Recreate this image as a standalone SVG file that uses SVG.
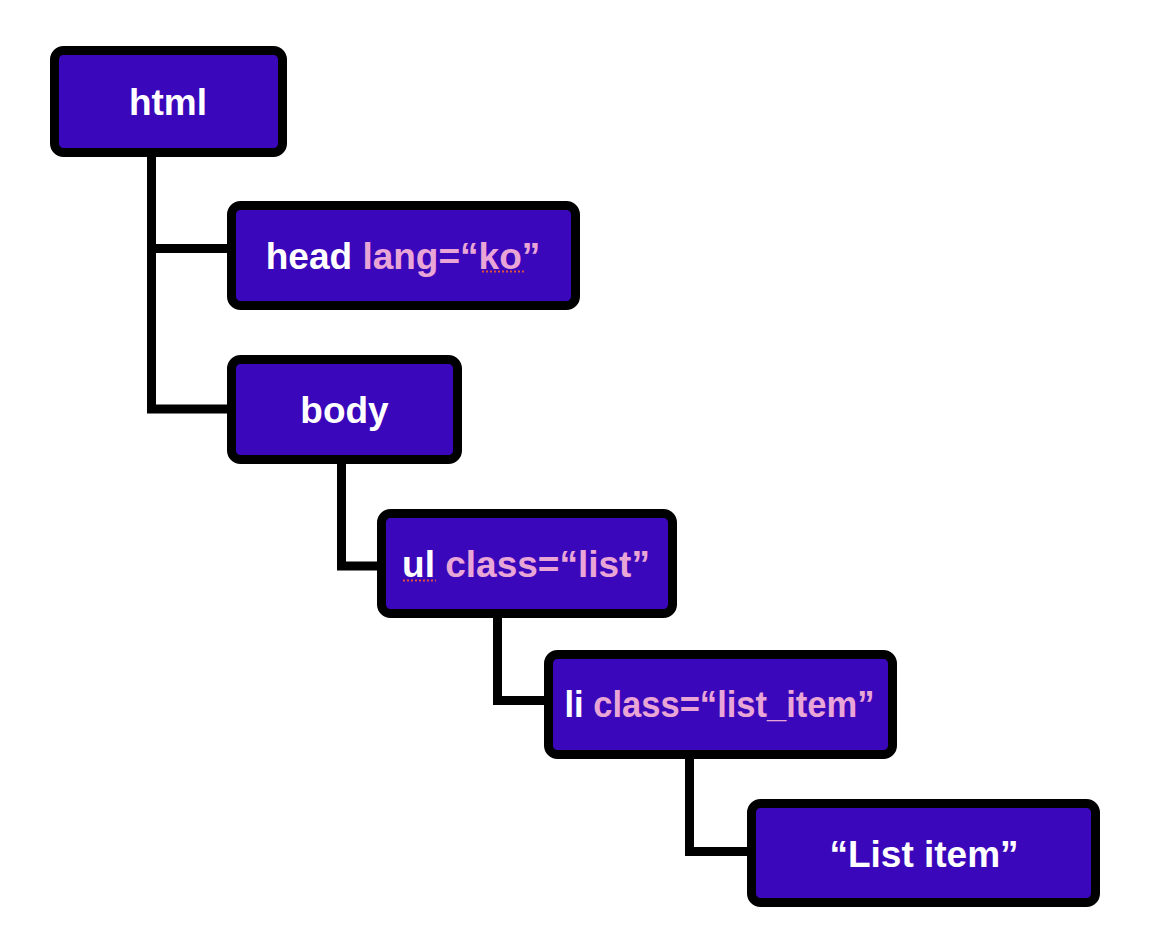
<svg xmlns="http://www.w3.org/2000/svg" width="1162" height="938" viewBox="0 0 1162 938">
<style>
.box{fill:#3B07BB;stroke:#000;stroke-width:9}
.lbl{font-family:"Liberation Sans",Arial,Helvetica,sans-serif;font-weight:bold;font-size:37px;fill:#fff;text-anchor:middle}
.attr{fill:#E8A5D6}
.conn{fill:none;stroke:#000;stroke-width:9;stroke-linejoin:miter;stroke-linecap:square}
.spell{stroke:#E0503C;stroke-width:2;stroke-dasharray:2 2}
</style>
<rect width="1162" height="938" fill="#fff"/>
<g id="connectors">
<path class="conn" d="M151.5,157 V409 H227"/>
<path class="conn" d="M151.5,248.5 H227"/>
<path class="conn" d="M341.5,464 V566 H377"/>
<path class="conn" d="M497.5,618 V700.5 H544"/>
<path class="conn" d="M689.5,758 V851.5 H747"/>
</g>
<g id="node-html">
<rect class="box" x="54.5" y="50.5" width="228" height="102" rx="9"/>
<text class="lbl" x="168" y="115">html</text>
</g>
<g id="node-head">
<rect class="box" x="231.5" y="205.5" width="344" height="100" rx="9"/>
<text class="lbl" x="403" y="269">head <tspan class="attr">lang=“ko”</tspan></text>
<line class="spell" x1="482" y1="271.5" x2="525" y2="271.5"/>
</g>
<g id="node-body">
<rect class="box" x="231.5" y="359.5" width="226" height="100" rx="9"/>
<text class="lbl" x="344.5" y="423">body</text>
</g>
<g id="node-ul">
<rect class="box" x="381.5" y="513.5" width="291" height="100" rx="9"/>
<text class="lbl" x="526" y="577">ul <tspan class="attr">class=“list”</tspan></text>
<line class="spell" x1="403" y1="580.5" x2="436" y2="580.5"/>
</g>
<g id="node-li">
<rect class="box" x="548.5" y="654.5" width="344" height="100" rx="9"/>
<text class="lbl" x="719.5" y="717" textLength="310" lengthAdjust="spacingAndGlyphs">li <tspan class="attr">class=“list_item”</tspan></text>
</g>
<g id="node-text">
<rect class="box" x="751.5" y="803.5" width="344" height="99" rx="9"/>
<text class="lbl" x="924" y="867">“List item”</text>
</g>
</svg>
